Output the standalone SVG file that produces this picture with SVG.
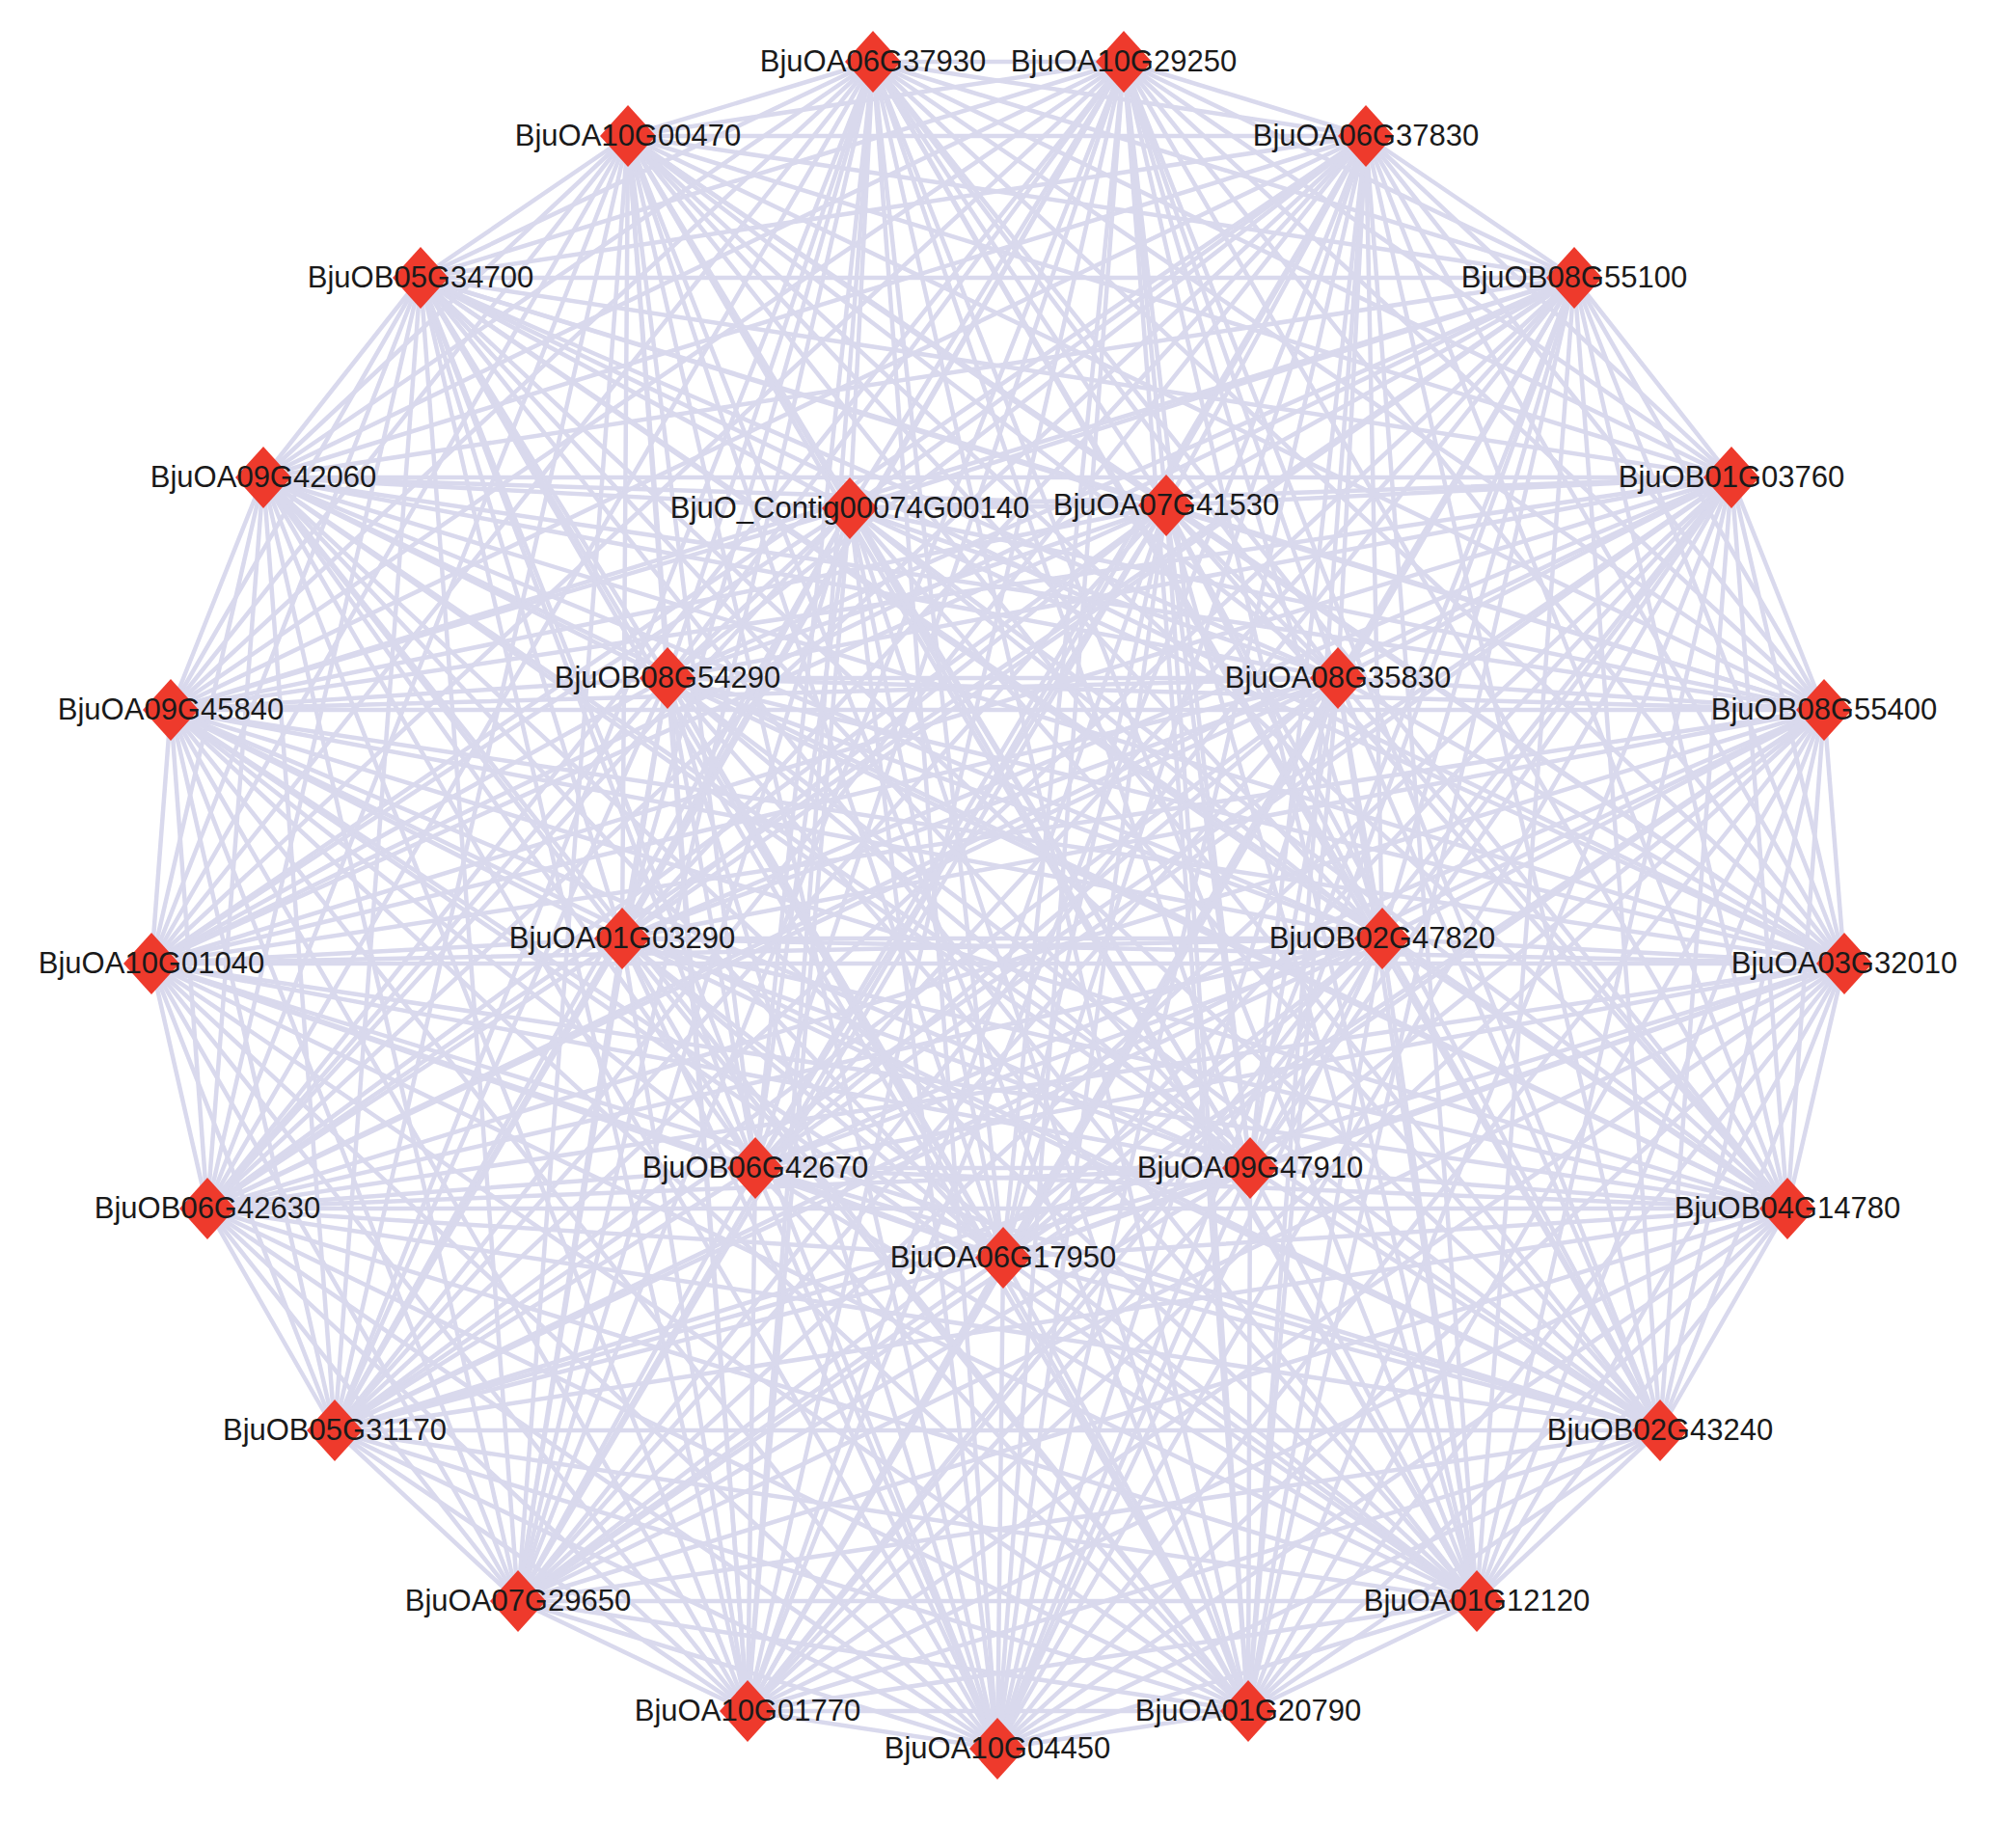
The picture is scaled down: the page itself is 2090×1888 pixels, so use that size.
<svg xmlns="http://www.w3.org/2000/svg" xmlns:xlink="http://www.w3.org/1999/xlink" width="2090" height="1888" viewBox="0 0 2090 1888">
<style>
.lbl{font-family:"Liberation Sans",Arial,Helvetica,sans-serif;font-size:31px;fill:#1a1a1a;text-anchor:middle}
.dia{fill:#ee3a2c}
</style>
<defs><path id="dia" d="M0 -32L29 0L0 32L-29 0Z"/></defs>
<rect width="2090" height="1888" fill="#ffffff"/>
<g id="edges" stroke="#d9d9ed" stroke-width="4.5" stroke-linecap="round" fill="none">
<line x1="905" y1="64" x2="1165" y2="64"/><line x1="905" y1="64" x2="1416" y2="141"/><line x1="905" y1="64" x2="1632" y2="288"/><line x1="905" y1="64" x2="1795" y2="495"/><line x1="905" y1="64" x2="1891" y2="736"/><line x1="905" y1="64" x2="1912" y2="999"/><line x1="905" y1="64" x2="1853" y2="1253"/><line x1="905" y1="64" x2="1721" y2="1483"/><line x1="905" y1="64" x2="1531" y2="1660"/><line x1="905" y1="64" x2="1294" y2="1774"/><line x1="905" y1="64" x2="1034" y2="1813"/><line x1="905" y1="64" x2="775" y2="1774"/><line x1="905" y1="64" x2="537" y2="1660"/><line x1="905" y1="64" x2="347" y2="1483"/><line x1="905" y1="64" x2="215" y2="1253"/><line x1="905" y1="64" x2="157" y2="999"/><line x1="905" y1="64" x2="177" y2="736"/><line x1="905" y1="64" x2="273" y2="495"/><line x1="905" y1="64" x2="436" y2="288"/><line x1="905" y1="64" x2="651" y2="141"/><line x1="905" y1="64" x2="881" y2="527"/><line x1="905" y1="64" x2="1209" y2="524"/><line x1="905" y1="64" x2="1387" y2="703"/><line x1="905" y1="64" x2="1433" y2="973"/><line x1="905" y1="64" x2="1296" y2="1211"/><line x1="905" y1="64" x2="1040" y2="1304"/><line x1="905" y1="64" x2="783" y2="1211"/><line x1="905" y1="64" x2="645" y2="973"/><line x1="905" y1="64" x2="692" y2="703"/>
<line x1="1165" y1="64" x2="1416" y2="141"/><line x1="1165" y1="64" x2="1632" y2="288"/><line x1="1165" y1="64" x2="1795" y2="495"/><line x1="1165" y1="64" x2="1891" y2="736"/><line x1="1165" y1="64" x2="1912" y2="999"/><line x1="1165" y1="64" x2="1853" y2="1253"/><line x1="1165" y1="64" x2="1721" y2="1483"/><line x1="1165" y1="64" x2="1531" y2="1660"/><line x1="1165" y1="64" x2="1294" y2="1774"/><line x1="1165" y1="64" x2="1034" y2="1813"/><line x1="1165" y1="64" x2="775" y2="1774"/><line x1="1165" y1="64" x2="537" y2="1660"/><line x1="1165" y1="64" x2="347" y2="1483"/><line x1="1165" y1="64" x2="215" y2="1253"/><line x1="1165" y1="64" x2="157" y2="999"/><line x1="1165" y1="64" x2="177" y2="736"/><line x1="1165" y1="64" x2="273" y2="495"/><line x1="1165" y1="64" x2="436" y2="288"/><line x1="1165" y1="64" x2="651" y2="141"/><line x1="1165" y1="64" x2="881" y2="527"/><line x1="1165" y1="64" x2="1209" y2="524"/><line x1="1165" y1="64" x2="1387" y2="703"/><line x1="1165" y1="64" x2="1433" y2="973"/><line x1="1165" y1="64" x2="1296" y2="1211"/><line x1="1165" y1="64" x2="1040" y2="1304"/><line x1="1165" y1="64" x2="783" y2="1211"/><line x1="1165" y1="64" x2="645" y2="973"/><line x1="1165" y1="64" x2="692" y2="703"/>
<line x1="1416" y1="141" x2="1632" y2="288"/><line x1="1416" y1="141" x2="1795" y2="495"/><line x1="1416" y1="141" x2="1891" y2="736"/><line x1="1416" y1="141" x2="1912" y2="999"/><line x1="1416" y1="141" x2="1853" y2="1253"/><line x1="1416" y1="141" x2="1721" y2="1483"/><line x1="1416" y1="141" x2="1531" y2="1660"/><line x1="1416" y1="141" x2="1294" y2="1774"/><line x1="1416" y1="141" x2="1034" y2="1813"/><line x1="1416" y1="141" x2="775" y2="1774"/><line x1="1416" y1="141" x2="537" y2="1660"/><line x1="1416" y1="141" x2="347" y2="1483"/><line x1="1416" y1="141" x2="215" y2="1253"/><line x1="1416" y1="141" x2="157" y2="999"/><line x1="1416" y1="141" x2="177" y2="736"/><line x1="1416" y1="141" x2="273" y2="495"/><line x1="1416" y1="141" x2="436" y2="288"/><line x1="1416" y1="141" x2="651" y2="141"/><line x1="1416" y1="141" x2="881" y2="527"/><line x1="1416" y1="141" x2="1209" y2="524"/><line x1="1416" y1="141" x2="1387" y2="703"/><line x1="1416" y1="141" x2="1433" y2="973"/><line x1="1416" y1="141" x2="1296" y2="1211"/><line x1="1416" y1="141" x2="1040" y2="1304"/><line x1="1416" y1="141" x2="783" y2="1211"/><line x1="1416" y1="141" x2="645" y2="973"/><line x1="1416" y1="141" x2="692" y2="703"/>
<line x1="1632" y1="288" x2="1795" y2="495"/><line x1="1632" y1="288" x2="1891" y2="736"/><line x1="1632" y1="288" x2="1912" y2="999"/><line x1="1632" y1="288" x2="1853" y2="1253"/><line x1="1632" y1="288" x2="1721" y2="1483"/><line x1="1632" y1="288" x2="1531" y2="1660"/><line x1="1632" y1="288" x2="1294" y2="1774"/><line x1="1632" y1="288" x2="1034" y2="1813"/><line x1="1632" y1="288" x2="775" y2="1774"/><line x1="1632" y1="288" x2="537" y2="1660"/><line x1="1632" y1="288" x2="347" y2="1483"/><line x1="1632" y1="288" x2="215" y2="1253"/><line x1="1632" y1="288" x2="157" y2="999"/><line x1="1632" y1="288" x2="177" y2="736"/><line x1="1632" y1="288" x2="273" y2="495"/><line x1="1632" y1="288" x2="436" y2="288"/><line x1="1632" y1="288" x2="651" y2="141"/><line x1="1632" y1="288" x2="881" y2="527"/><line x1="1632" y1="288" x2="1209" y2="524"/><line x1="1632" y1="288" x2="1387" y2="703"/><line x1="1632" y1="288" x2="1433" y2="973"/><line x1="1632" y1="288" x2="1296" y2="1211"/><line x1="1632" y1="288" x2="1040" y2="1304"/><line x1="1632" y1="288" x2="783" y2="1211"/><line x1="1632" y1="288" x2="645" y2="973"/><line x1="1632" y1="288" x2="692" y2="703"/>
<line x1="1795" y1="495" x2="1891" y2="736"/><line x1="1795" y1="495" x2="1912" y2="999"/><line x1="1795" y1="495" x2="1853" y2="1253"/><line x1="1795" y1="495" x2="1721" y2="1483"/><line x1="1795" y1="495" x2="1531" y2="1660"/><line x1="1795" y1="495" x2="1294" y2="1774"/><line x1="1795" y1="495" x2="1034" y2="1813"/><line x1="1795" y1="495" x2="775" y2="1774"/><line x1="1795" y1="495" x2="537" y2="1660"/><line x1="1795" y1="495" x2="347" y2="1483"/><line x1="1795" y1="495" x2="215" y2="1253"/><line x1="1795" y1="495" x2="157" y2="999"/><line x1="1795" y1="495" x2="177" y2="736"/><line x1="1795" y1="495" x2="273" y2="495"/><line x1="1795" y1="495" x2="436" y2="288"/><line x1="1795" y1="495" x2="651" y2="141"/><line x1="1795" y1="495" x2="881" y2="527"/><line x1="1795" y1="495" x2="1209" y2="524"/><line x1="1795" y1="495" x2="1387" y2="703"/><line x1="1795" y1="495" x2="1433" y2="973"/><line x1="1795" y1="495" x2="1296" y2="1211"/><line x1="1795" y1="495" x2="1040" y2="1304"/><line x1="1795" y1="495" x2="783" y2="1211"/><line x1="1795" y1="495" x2="645" y2="973"/><line x1="1795" y1="495" x2="692" y2="703"/>
<line x1="1891" y1="736" x2="1912" y2="999"/><line x1="1891" y1="736" x2="1853" y2="1253"/><line x1="1891" y1="736" x2="1721" y2="1483"/><line x1="1891" y1="736" x2="1531" y2="1660"/><line x1="1891" y1="736" x2="1294" y2="1774"/><line x1="1891" y1="736" x2="1034" y2="1813"/><line x1="1891" y1="736" x2="775" y2="1774"/><line x1="1891" y1="736" x2="537" y2="1660"/><line x1="1891" y1="736" x2="347" y2="1483"/><line x1="1891" y1="736" x2="215" y2="1253"/><line x1="1891" y1="736" x2="157" y2="999"/><line x1="1891" y1="736" x2="177" y2="736"/><line x1="1891" y1="736" x2="273" y2="495"/><line x1="1891" y1="736" x2="436" y2="288"/><line x1="1891" y1="736" x2="651" y2="141"/><line x1="1891" y1="736" x2="881" y2="527"/><line x1="1891" y1="736" x2="1209" y2="524"/><line x1="1891" y1="736" x2="1387" y2="703"/><line x1="1891" y1="736" x2="1433" y2="973"/><line x1="1891" y1="736" x2="1296" y2="1211"/><line x1="1891" y1="736" x2="1040" y2="1304"/><line x1="1891" y1="736" x2="783" y2="1211"/><line x1="1891" y1="736" x2="645" y2="973"/><line x1="1891" y1="736" x2="692" y2="703"/>
<line x1="1912" y1="999" x2="1853" y2="1253"/><line x1="1912" y1="999" x2="1721" y2="1483"/><line x1="1912" y1="999" x2="1531" y2="1660"/><line x1="1912" y1="999" x2="1294" y2="1774"/><line x1="1912" y1="999" x2="1034" y2="1813"/><line x1="1912" y1="999" x2="775" y2="1774"/><line x1="1912" y1="999" x2="537" y2="1660"/><line x1="1912" y1="999" x2="347" y2="1483"/><line x1="1912" y1="999" x2="215" y2="1253"/><line x1="1912" y1="999" x2="157" y2="999"/><line x1="1912" y1="999" x2="177" y2="736"/><line x1="1912" y1="999" x2="273" y2="495"/><line x1="1912" y1="999" x2="436" y2="288"/><line x1="1912" y1="999" x2="651" y2="141"/><line x1="1912" y1="999" x2="881" y2="527"/><line x1="1912" y1="999" x2="1209" y2="524"/><line x1="1912" y1="999" x2="1387" y2="703"/><line x1="1912" y1="999" x2="1433" y2="973"/><line x1="1912" y1="999" x2="1296" y2="1211"/><line x1="1912" y1="999" x2="1040" y2="1304"/><line x1="1912" y1="999" x2="783" y2="1211"/><line x1="1912" y1="999" x2="645" y2="973"/><line x1="1912" y1="999" x2="692" y2="703"/>
<line x1="1853" y1="1253" x2="1721" y2="1483"/><line x1="1853" y1="1253" x2="1531" y2="1660"/><line x1="1853" y1="1253" x2="1294" y2="1774"/><line x1="1853" y1="1253" x2="1034" y2="1813"/><line x1="1853" y1="1253" x2="775" y2="1774"/><line x1="1853" y1="1253" x2="537" y2="1660"/><line x1="1853" y1="1253" x2="347" y2="1483"/><line x1="1853" y1="1253" x2="215" y2="1253"/><line x1="1853" y1="1253" x2="157" y2="999"/><line x1="1853" y1="1253" x2="177" y2="736"/><line x1="1853" y1="1253" x2="273" y2="495"/><line x1="1853" y1="1253" x2="436" y2="288"/><line x1="1853" y1="1253" x2="651" y2="141"/><line x1="1853" y1="1253" x2="881" y2="527"/><line x1="1853" y1="1253" x2="1209" y2="524"/><line x1="1853" y1="1253" x2="1387" y2="703"/><line x1="1853" y1="1253" x2="1433" y2="973"/><line x1="1853" y1="1253" x2="1296" y2="1211"/><line x1="1853" y1="1253" x2="1040" y2="1304"/><line x1="1853" y1="1253" x2="783" y2="1211"/><line x1="1853" y1="1253" x2="645" y2="973"/><line x1="1853" y1="1253" x2="692" y2="703"/>
<line x1="1721" y1="1483" x2="1531" y2="1660"/><line x1="1721" y1="1483" x2="1294" y2="1774"/><line x1="1721" y1="1483" x2="1034" y2="1813"/><line x1="1721" y1="1483" x2="775" y2="1774"/><line x1="1721" y1="1483" x2="537" y2="1660"/><line x1="1721" y1="1483" x2="347" y2="1483"/><line x1="1721" y1="1483" x2="215" y2="1253"/><line x1="1721" y1="1483" x2="157" y2="999"/><line x1="1721" y1="1483" x2="177" y2="736"/><line x1="1721" y1="1483" x2="273" y2="495"/><line x1="1721" y1="1483" x2="436" y2="288"/><line x1="1721" y1="1483" x2="651" y2="141"/><line x1="1721" y1="1483" x2="881" y2="527"/><line x1="1721" y1="1483" x2="1209" y2="524"/><line x1="1721" y1="1483" x2="1387" y2="703"/><line x1="1721" y1="1483" x2="1433" y2="973"/><line x1="1721" y1="1483" x2="1296" y2="1211"/><line x1="1721" y1="1483" x2="1040" y2="1304"/><line x1="1721" y1="1483" x2="783" y2="1211"/><line x1="1721" y1="1483" x2="645" y2="973"/><line x1="1721" y1="1483" x2="692" y2="703"/>
<line x1="1531" y1="1660" x2="1294" y2="1774"/><line x1="1531" y1="1660" x2="1034" y2="1813"/><line x1="1531" y1="1660" x2="775" y2="1774"/><line x1="1531" y1="1660" x2="537" y2="1660"/><line x1="1531" y1="1660" x2="347" y2="1483"/><line x1="1531" y1="1660" x2="215" y2="1253"/><line x1="1531" y1="1660" x2="157" y2="999"/><line x1="1531" y1="1660" x2="177" y2="736"/><line x1="1531" y1="1660" x2="273" y2="495"/><line x1="1531" y1="1660" x2="436" y2="288"/><line x1="1531" y1="1660" x2="651" y2="141"/><line x1="1531" y1="1660" x2="881" y2="527"/><line x1="1531" y1="1660" x2="1209" y2="524"/><line x1="1531" y1="1660" x2="1387" y2="703"/><line x1="1531" y1="1660" x2="1433" y2="973"/><line x1="1531" y1="1660" x2="1296" y2="1211"/><line x1="1531" y1="1660" x2="1040" y2="1304"/><line x1="1531" y1="1660" x2="783" y2="1211"/><line x1="1531" y1="1660" x2="645" y2="973"/><line x1="1531" y1="1660" x2="692" y2="703"/>
<line x1="1294" y1="1774" x2="1034" y2="1813"/><line x1="1294" y1="1774" x2="775" y2="1774"/><line x1="1294" y1="1774" x2="537" y2="1660"/><line x1="1294" y1="1774" x2="347" y2="1483"/><line x1="1294" y1="1774" x2="215" y2="1253"/><line x1="1294" y1="1774" x2="157" y2="999"/><line x1="1294" y1="1774" x2="177" y2="736"/><line x1="1294" y1="1774" x2="273" y2="495"/><line x1="1294" y1="1774" x2="436" y2="288"/><line x1="1294" y1="1774" x2="651" y2="141"/><line x1="1294" y1="1774" x2="881" y2="527"/><line x1="1294" y1="1774" x2="1209" y2="524"/><line x1="1294" y1="1774" x2="1387" y2="703"/><line x1="1294" y1="1774" x2="1433" y2="973"/><line x1="1294" y1="1774" x2="1296" y2="1211"/><line x1="1294" y1="1774" x2="1040" y2="1304"/><line x1="1294" y1="1774" x2="783" y2="1211"/><line x1="1294" y1="1774" x2="645" y2="973"/><line x1="1294" y1="1774" x2="692" y2="703"/>
<line x1="1034" y1="1813" x2="775" y2="1774"/><line x1="1034" y1="1813" x2="537" y2="1660"/><line x1="1034" y1="1813" x2="347" y2="1483"/><line x1="1034" y1="1813" x2="215" y2="1253"/><line x1="1034" y1="1813" x2="157" y2="999"/><line x1="1034" y1="1813" x2="177" y2="736"/><line x1="1034" y1="1813" x2="273" y2="495"/><line x1="1034" y1="1813" x2="436" y2="288"/><line x1="1034" y1="1813" x2="651" y2="141"/><line x1="1034" y1="1813" x2="881" y2="527"/><line x1="1034" y1="1813" x2="1209" y2="524"/><line x1="1034" y1="1813" x2="1387" y2="703"/><line x1="1034" y1="1813" x2="1433" y2="973"/><line x1="1034" y1="1813" x2="1296" y2="1211"/><line x1="1034" y1="1813" x2="1040" y2="1304"/><line x1="1034" y1="1813" x2="783" y2="1211"/><line x1="1034" y1="1813" x2="645" y2="973"/><line x1="1034" y1="1813" x2="692" y2="703"/>
<line x1="775" y1="1774" x2="537" y2="1660"/><line x1="775" y1="1774" x2="347" y2="1483"/><line x1="775" y1="1774" x2="215" y2="1253"/><line x1="775" y1="1774" x2="157" y2="999"/><line x1="775" y1="1774" x2="177" y2="736"/><line x1="775" y1="1774" x2="273" y2="495"/><line x1="775" y1="1774" x2="436" y2="288"/><line x1="775" y1="1774" x2="651" y2="141"/><line x1="775" y1="1774" x2="881" y2="527"/><line x1="775" y1="1774" x2="1209" y2="524"/><line x1="775" y1="1774" x2="1387" y2="703"/><line x1="775" y1="1774" x2="1433" y2="973"/><line x1="775" y1="1774" x2="1296" y2="1211"/><line x1="775" y1="1774" x2="1040" y2="1304"/><line x1="775" y1="1774" x2="783" y2="1211"/><line x1="775" y1="1774" x2="645" y2="973"/><line x1="775" y1="1774" x2="692" y2="703"/>
<line x1="537" y1="1660" x2="347" y2="1483"/><line x1="537" y1="1660" x2="215" y2="1253"/><line x1="537" y1="1660" x2="157" y2="999"/><line x1="537" y1="1660" x2="177" y2="736"/><line x1="537" y1="1660" x2="273" y2="495"/><line x1="537" y1="1660" x2="436" y2="288"/><line x1="537" y1="1660" x2="651" y2="141"/><line x1="537" y1="1660" x2="881" y2="527"/><line x1="537" y1="1660" x2="1209" y2="524"/><line x1="537" y1="1660" x2="1387" y2="703"/><line x1="537" y1="1660" x2="1433" y2="973"/><line x1="537" y1="1660" x2="1296" y2="1211"/><line x1="537" y1="1660" x2="1040" y2="1304"/><line x1="537" y1="1660" x2="783" y2="1211"/><line x1="537" y1="1660" x2="645" y2="973"/><line x1="537" y1="1660" x2="692" y2="703"/>
<line x1="347" y1="1483" x2="215" y2="1253"/><line x1="347" y1="1483" x2="157" y2="999"/><line x1="347" y1="1483" x2="177" y2="736"/><line x1="347" y1="1483" x2="273" y2="495"/><line x1="347" y1="1483" x2="436" y2="288"/><line x1="347" y1="1483" x2="651" y2="141"/><line x1="347" y1="1483" x2="881" y2="527"/><line x1="347" y1="1483" x2="1209" y2="524"/><line x1="347" y1="1483" x2="1387" y2="703"/><line x1="347" y1="1483" x2="1433" y2="973"/><line x1="347" y1="1483" x2="1296" y2="1211"/><line x1="347" y1="1483" x2="1040" y2="1304"/><line x1="347" y1="1483" x2="783" y2="1211"/><line x1="347" y1="1483" x2="645" y2="973"/><line x1="347" y1="1483" x2="692" y2="703"/>
<line x1="215" y1="1253" x2="157" y2="999"/><line x1="215" y1="1253" x2="177" y2="736"/><line x1="215" y1="1253" x2="273" y2="495"/><line x1="215" y1="1253" x2="436" y2="288"/><line x1="215" y1="1253" x2="651" y2="141"/><line x1="215" y1="1253" x2="881" y2="527"/><line x1="215" y1="1253" x2="1209" y2="524"/><line x1="215" y1="1253" x2="1387" y2="703"/><line x1="215" y1="1253" x2="1433" y2="973"/><line x1="215" y1="1253" x2="1296" y2="1211"/><line x1="215" y1="1253" x2="1040" y2="1304"/><line x1="215" y1="1253" x2="783" y2="1211"/><line x1="215" y1="1253" x2="645" y2="973"/><line x1="215" y1="1253" x2="692" y2="703"/>
<line x1="157" y1="999" x2="177" y2="736"/><line x1="157" y1="999" x2="273" y2="495"/><line x1="157" y1="999" x2="436" y2="288"/><line x1="157" y1="999" x2="651" y2="141"/><line x1="157" y1="999" x2="881" y2="527"/><line x1="157" y1="999" x2="1209" y2="524"/><line x1="157" y1="999" x2="1387" y2="703"/><line x1="157" y1="999" x2="1433" y2="973"/><line x1="157" y1="999" x2="1296" y2="1211"/><line x1="157" y1="999" x2="1040" y2="1304"/><line x1="157" y1="999" x2="783" y2="1211"/><line x1="157" y1="999" x2="645" y2="973"/><line x1="157" y1="999" x2="692" y2="703"/>
<line x1="177" y1="736" x2="273" y2="495"/><line x1="177" y1="736" x2="436" y2="288"/><line x1="177" y1="736" x2="651" y2="141"/><line x1="177" y1="736" x2="881" y2="527"/><line x1="177" y1="736" x2="1209" y2="524"/><line x1="177" y1="736" x2="1387" y2="703"/><line x1="177" y1="736" x2="1433" y2="973"/><line x1="177" y1="736" x2="1296" y2="1211"/><line x1="177" y1="736" x2="1040" y2="1304"/><line x1="177" y1="736" x2="783" y2="1211"/><line x1="177" y1="736" x2="645" y2="973"/><line x1="177" y1="736" x2="692" y2="703"/>
<line x1="273" y1="495" x2="436" y2="288"/><line x1="273" y1="495" x2="651" y2="141"/><line x1="273" y1="495" x2="881" y2="527"/><line x1="273" y1="495" x2="1209" y2="524"/><line x1="273" y1="495" x2="1387" y2="703"/><line x1="273" y1="495" x2="1433" y2="973"/><line x1="273" y1="495" x2="1296" y2="1211"/><line x1="273" y1="495" x2="1040" y2="1304"/><line x1="273" y1="495" x2="783" y2="1211"/><line x1="273" y1="495" x2="645" y2="973"/><line x1="273" y1="495" x2="692" y2="703"/>
<line x1="436" y1="288" x2="651" y2="141"/><line x1="436" y1="288" x2="881" y2="527"/><line x1="436" y1="288" x2="1209" y2="524"/><line x1="436" y1="288" x2="1387" y2="703"/><line x1="436" y1="288" x2="1433" y2="973"/><line x1="436" y1="288" x2="1296" y2="1211"/><line x1="436" y1="288" x2="1040" y2="1304"/><line x1="436" y1="288" x2="783" y2="1211"/><line x1="436" y1="288" x2="645" y2="973"/><line x1="436" y1="288" x2="692" y2="703"/>
<line x1="651" y1="141" x2="881" y2="527"/><line x1="651" y1="141" x2="1209" y2="524"/><line x1="651" y1="141" x2="1387" y2="703"/><line x1="651" y1="141" x2="1433" y2="973"/><line x1="651" y1="141" x2="1296" y2="1211"/><line x1="651" y1="141" x2="1040" y2="1304"/><line x1="651" y1="141" x2="783" y2="1211"/><line x1="651" y1="141" x2="645" y2="973"/><line x1="651" y1="141" x2="692" y2="703"/>
<line x1="881" y1="527" x2="1209" y2="524"/><line x1="881" y1="527" x2="1387" y2="703"/><line x1="881" y1="527" x2="1433" y2="973"/><line x1="881" y1="527" x2="1296" y2="1211"/><line x1="881" y1="527" x2="1040" y2="1304"/><line x1="881" y1="527" x2="783" y2="1211"/><line x1="881" y1="527" x2="645" y2="973"/><line x1="881" y1="527" x2="692" y2="703"/>
<line x1="1209" y1="524" x2="1387" y2="703"/><line x1="1209" y1="524" x2="1433" y2="973"/><line x1="1209" y1="524" x2="1296" y2="1211"/><line x1="1209" y1="524" x2="1040" y2="1304"/><line x1="1209" y1="524" x2="783" y2="1211"/><line x1="1209" y1="524" x2="645" y2="973"/><line x1="1209" y1="524" x2="692" y2="703"/>
<line x1="1387" y1="703" x2="1433" y2="973"/><line x1="1387" y1="703" x2="1296" y2="1211"/><line x1="1387" y1="703" x2="1040" y2="1304"/><line x1="1387" y1="703" x2="783" y2="1211"/><line x1="1387" y1="703" x2="645" y2="973"/><line x1="1387" y1="703" x2="692" y2="703"/>
<line x1="1433" y1="973" x2="1296" y2="1211"/><line x1="1433" y1="973" x2="1040" y2="1304"/><line x1="1433" y1="973" x2="783" y2="1211"/><line x1="1433" y1="973" x2="645" y2="973"/><line x1="1433" y1="973" x2="692" y2="703"/>
<line x1="1296" y1="1211" x2="1040" y2="1304"/><line x1="1296" y1="1211" x2="783" y2="1211"/><line x1="1296" y1="1211" x2="645" y2="973"/><line x1="1296" y1="1211" x2="692" y2="703"/>
<line x1="1040" y1="1304" x2="783" y2="1211"/><line x1="1040" y1="1304" x2="645" y2="973"/><line x1="1040" y1="1304" x2="692" y2="703"/>
<line x1="783" y1="1211" x2="645" y2="973"/><line x1="783" y1="1211" x2="692" y2="703"/>
<line x1="645" y1="973" x2="692" y2="703"/>
</g>
<g id="nodes">
<g id="n01"><use href="#dia" class="dia" x="905" y="64"/><text class="lbl" x="905" y="74">BjuOA06G37930</text></g>
<g id="n02"><use href="#dia" class="dia" x="1165" y="64"/><text class="lbl" x="1165" y="74">BjuOA10G29250</text></g>
<g id="n03"><use href="#dia" class="dia" x="1416" y="141"/><text class="lbl" x="1416" y="151">BjuOA06G37830</text></g>
<g id="n04"><use href="#dia" class="dia" x="1632" y="288"/><text class="lbl" x="1632" y="298">BjuOB08G55100</text></g>
<g id="n05"><use href="#dia" class="dia" x="1795" y="495"/><text class="lbl" x="1795" y="505">BjuOB01G03760</text></g>
<g id="n06"><use href="#dia" class="dia" x="1891" y="736"/><text class="lbl" x="1891" y="746">BjuOB08G55400</text></g>
<g id="n07"><use href="#dia" class="dia" x="1912" y="999"/><text class="lbl" x="1912" y="1009">BjuOA03G32010</text></g>
<g id="n08"><use href="#dia" class="dia" x="1853" y="1253"/><text class="lbl" x="1853" y="1263">BjuOB04G14780</text></g>
<g id="n09"><use href="#dia" class="dia" x="1721" y="1483"/><text class="lbl" x="1721" y="1493">BjuOB02G43240</text></g>
<g id="n10"><use href="#dia" class="dia" x="1531" y="1660"/><text class="lbl" x="1531" y="1670">BjuOA01G12120</text></g>
<g id="n11"><use href="#dia" class="dia" x="1294" y="1774"/><text class="lbl" x="1294" y="1784">BjuOA01G20790</text></g>
<g id="n12"><use href="#dia" class="dia" x="1034" y="1813"/><text class="lbl" x="1034" y="1823">BjuOA10G04450</text></g>
<g id="n13"><use href="#dia" class="dia" x="775" y="1774"/><text class="lbl" x="775" y="1784">BjuOA10G01770</text></g>
<g id="n14"><use href="#dia" class="dia" x="537" y="1660"/><text class="lbl" x="537" y="1670">BjuOA07G29650</text></g>
<g id="n15"><use href="#dia" class="dia" x="347" y="1483"/><text class="lbl" x="347" y="1493">BjuOB05G31170</text></g>
<g id="n16"><use href="#dia" class="dia" x="215" y="1253"/><text class="lbl" x="215" y="1263">BjuOB06G42630</text></g>
<g id="n17"><use href="#dia" class="dia" x="157" y="999"/><text class="lbl" x="157" y="1009">BjuOA10G01040</text></g>
<g id="n18"><use href="#dia" class="dia" x="177" y="736"/><text class="lbl" x="177" y="746">BjuOA09G45840</text></g>
<g id="n19"><use href="#dia" class="dia" x="273" y="495"/><text class="lbl" x="273" y="505">BjuOA09G42060</text></g>
<g id="n20"><use href="#dia" class="dia" x="436" y="288"/><text class="lbl" x="436" y="298">BjuOB05G34700</text></g>
<g id="n21"><use href="#dia" class="dia" x="651" y="141"/><text class="lbl" x="651" y="151">BjuOA10G00470</text></g>
<g id="n22"><use href="#dia" class="dia" x="881" y="527"/><text class="lbl" x="881" y="537">BjuO_Contig00074G00140</text></g>
<g id="n23"><use href="#dia" class="dia" x="1209" y="524"/><text class="lbl" x="1209" y="534">BjuOA07G41530</text></g>
<g id="n24"><use href="#dia" class="dia" x="1387" y="703"/><text class="lbl" x="1387" y="713">BjuOA08G35830</text></g>
<g id="n25"><use href="#dia" class="dia" x="1433" y="973"/><text class="lbl" x="1433" y="983">BjuOB02G47820</text></g>
<g id="n26"><use href="#dia" class="dia" x="1296" y="1211"/><text class="lbl" x="1296" y="1221">BjuOA09G47910</text></g>
<g id="n27"><use href="#dia" class="dia" x="1040" y="1304"/><text class="lbl" x="1040" y="1314">BjuOA06G17950</text></g>
<g id="n28"><use href="#dia" class="dia" x="783" y="1211"/><text class="lbl" x="783" y="1221">BjuOB06G42670</text></g>
<g id="n29"><use href="#dia" class="dia" x="645" y="973"/><text class="lbl" x="645" y="983">BjuOA01G03290</text></g>
<g id="n30"><use href="#dia" class="dia" x="692" y="703"/><text class="lbl" x="692" y="713">BjuOB08G54290</text></g>
</g>
</svg>
